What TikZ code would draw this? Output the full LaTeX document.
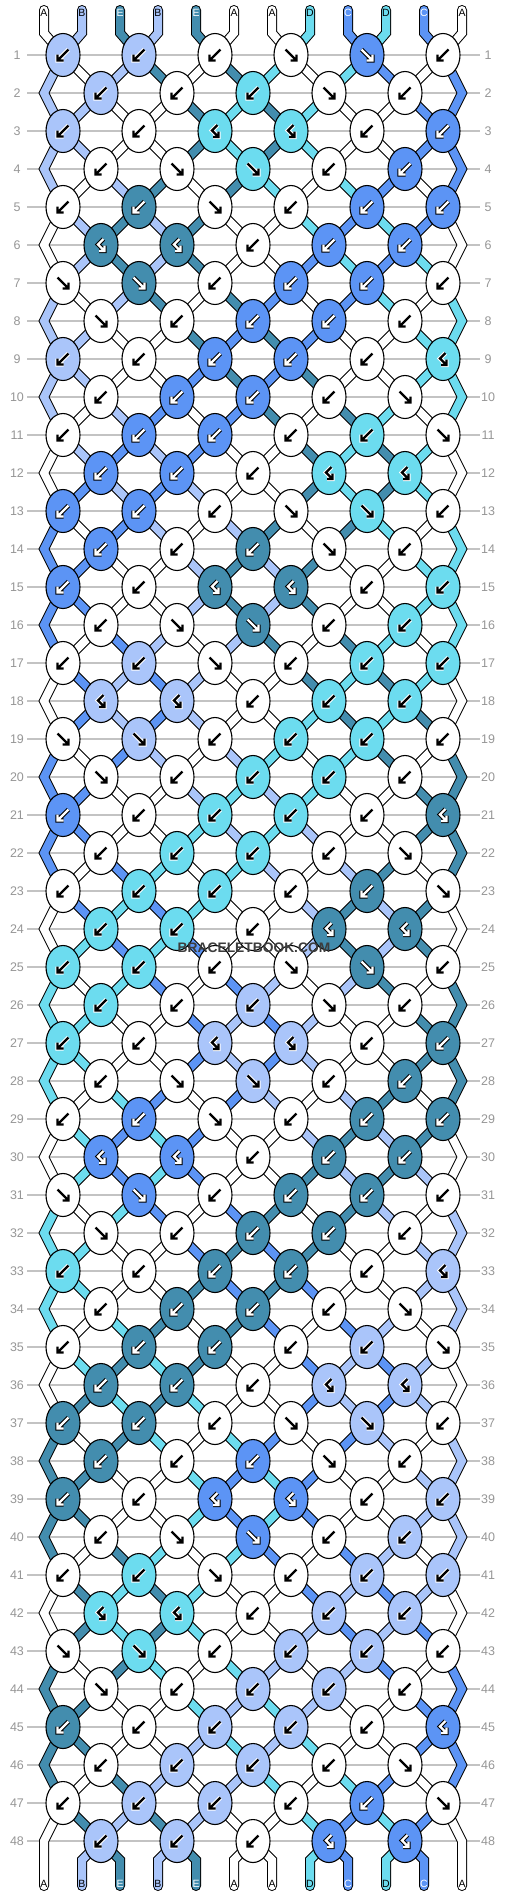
\documentclass[tikz,border=0pt]{standalone}
\usepackage{fontspec}
\setmainfont{Liberation Sans}
\definecolor{colA}{RGB}{255,255,255}
\definecolor{colB}{RGB}{170,197,250}
\definecolor{colC}{RGB}{92,148,245}
\definecolor{colD}{RGB}{108,220,239}
\definecolor{colE}{RGB}{67,141,174}
\definecolor{numgray}{RGB}{150,150,150}
\definecolor{linegray}{RGB}{195,195,195}
\definecolor{wmgray}{RGB}{60,60,60}
\def\fgA{black}\def\fgB{black}\def\fgC{white}\def\fgD{black}\def\fgE{white}
\def\hlA{white}\def\hlB{white}\def\hlC{black}\def\hlD{white}\def\hlE{black}
\expandafter\def\csname kt1\endcsname{b,b,b,f,f,b}
\expandafter\def\csname kt2\endcsname{b,b,b,f,b}
\expandafter\def\csname kt3\endcsname{b,b,h,h,b,b}
\expandafter\def\csname kt4\endcsname{b,f,f,b,b}
\expandafter\def\csname kt5\endcsname{b,b,f,b,b,b}
\expandafter\def\csname kt6\endcsname{h,h,b,b,b}
\expandafter\def\csname kt7\endcsname{f,f,b,b,b,b}
\expandafter\def\csname kt8\endcsname{f,b,b,b,b}
\expandafter\def\csname kt9\endcsname{b,b,b,b,b,h}
\expandafter\def\csname kt10\endcsname{b,b,b,b,f}
\expandafter\def\csname kt11\endcsname{b,b,b,b,b,f}
\expandafter\def\csname kt12\endcsname{b,b,b,h,h}
\def\initstate{A,B,E,B,E,A,A,D,C,D,C,A}
\newcommand\getP[2]{%
  \pgfmathsetmacro\py{55+38*(#2-1)}%
  \ifodd#2\relax
    \pgfmathsetmacro\px{63+76*(floor((#1+1)/2)-1)}%
  \else
    \ifnum#1=1\relax\def\px{44}%
    \else\ifnum#1=12\relax\def\px{462}%
    \else\pgfmathsetmacro\px{101+76*(floor(#1/2)-1)}%
    \fi\fi
  \fi}
\newcommand\gB[1]{\draw[line cap=butt,line join=miter,#1] (5.5,-5.5)--(-5.5,5.5) (-5.5,-0.5)--(-5.5,5.5)--(0.5,5.5);}
\newcommand\gF[1]{\draw[line cap=butt,line join=miter,#1] (-5.5,-5.5)--(5.5,5.5) (5.5,-0.5)--(5.5,5.5)--(-0.5,5.5);}
\newcommand\gH[1]{\draw[line cap=butt,line join=miter,#1] (2.5,-6)--(-3,-0.5)--(3.5,6) (3.5,0.5)--(3.5,6)--(-2,6);}
\begin{document}
\begin{tikzpicture}[x=1pt,y=-1pt,
  outl/.style={line width=10pt, draw=black, line cap=round, line join=miter},
  band/.style={line width=8pt, line cap=round, line join=miter},
  knot/.style={draw=black, line width=1.1pt},
  numlab/.style={text=numgray, font=\fontsize{12.5}{14}\selectfont, inner sep=0pt},
  strlab/.style={font=\fontsize{10.5}{12}\selectfont, inner sep=0pt}]
\fill[white] (0,0) rectangle (506,1896);
\useasboundingbox (0,0) rectangle (506,1896);
% grid lines and row numbers
\foreach \rw in {1,...,48}{
  \pgfmathsetmacro\yy{55+38*(\rw-1)}
  \draw[linegray, line width=1.2pt] (27,\yy) -- (480,\yy);
  \node[numlab] (nl\rw) at (17,\yy) {\rw};
  \node[numlab] (nr\rw) at (488,\yy) {\rw};
}
% ---------- pass 1: black outlines of all strands
\foreach \ps in {1,...,12}{
  \pgfmathsetmacro\xs{44+38*(\ps-1)}
  \getP{\ps}{1}
  \draw[outl] (\xs,10) -- (\xs,33) -- (\px,\py);
}
\foreach \rw in {2,...,48}{
  \pgfmathtruncatemacro\km{\rw-1}
  \foreach \ps in {2,...,11}{
    \getP{\ps}{\km}\let\ax\px\let\ay\py
    \getP{\ps}{\rw}
    \draw[outl] (\ax,\ay) -- (\px,\py);
  }
  \ifodd\rw\relax\else
    \pgfmathsetmacro\ya{55+38*(\rw-2)}
    \pgfmathsetmacro\yb{55+38*(\rw-1)}
    \ifnum\rw<48\relax\pgfmathsetmacro\yc{55+38*\rw}\def\xl{63}\def\xr{443}\else\def\yc{1886}\def\xl{44}\def\xr{462}\fi
    \draw[outl] (63,\ya) -- (44,\yb) -- (\xl,\yc);
    \draw[outl] (443,\ya) -- (462,\yb) -- (\xr,\yc);
  \fi
}
\foreach \ps in {2,...,11}{
  \pgfmathsetmacro\xs{44+38*(\ps-1)}
  \getP{\ps}{48}
  \draw[outl] (\px,\py) -- (\xs,1860) -- (\xs,1886);
}
% ---------- pass 2: coloured strands + simulation
\foreach \lt [count=\ps] in \initstate {\expandafter\xdef\csname st\ps\endcsname{\lt}}
\foreach \ps in {1,...,12}{
  \pgfmathsetmacro\xs{44+38*(\ps-1)}
  \getP{\ps}{1}
  \edef\bc{col\csname st\ps\endcsname}
  \draw[band, draw=\bc] (\xs,10) -- (\xs,33) -- (\px,\py);
  \edef\tc{\csname fg\csname st\ps\endcsname\endcsname}
  \node[strlab, text=\tc] (top\ps) at (\xs,13) {\csname st\ps\endcsname};
}
\foreach \rw in {1,...,48}{
  \ifnum\rw>1\relax
    \pgfmathtruncatemacro\km{\rw-1}
    \foreach \ps in {2,...,11}{
      \getP{\ps}{\km}\let\ax\px\let\ay\py
      \getP{\ps}{\rw}
      \edef\bc{col\csname st\ps\endcsname}
      \draw[band, draw=\bc] (\ax,\ay) -- (\px,\py);
    }
    \ifodd\rw\relax\else
      \pgfmathsetmacro\ya{55+38*(\rw-2)}
      \pgfmathsetmacro\yb{55+38*(\rw-1)}
      \ifnum\rw<48\relax\pgfmathsetmacro\yc{55+38*\rw}\def\xl{63}\def\xr{443}\else\def\yc{1886}\def\xl{44}\def\xr{462}\fi
      \edef\bc{col\csname st1\endcsname}
      \draw[band, draw=\bc] (63,\ya) -- (44,\yb) -- (\xl,\yc);
      \edef\bc{col\csname st12\endcsname}
      \draw[band, draw=\bc] (443,\ya) -- (462,\yb) -- (\xr,\yc);
    \fi
  \fi
  \pgfmathtruncatemacro\pr{mod(\rw-1,12)+1}
  \edef\tlist{\csname kt\pr\endcsname}
  \foreach \ty [count=\kn] in \tlist {%
    \ifodd\rw\relax\pgfmathtruncatemacro\pa{2*\kn-1}\else\pgfmathtruncatemacro\pa{2*\kn}\fi
    \pgfmathtruncatemacro\pb{\pa+1}%
    \edef\lc{\csname st\pa\endcsname}%
    \edef\rc{\csname st\pb\endcsname}%
    \if\ty f\expandafter\xdef\csname kc\rw-\kn\endcsname{\lc}%
    \else\expandafter\xdef\csname kc\rw-\kn\endcsname{\rc}\fi
    \if\ty h\else
      \expandafter\xdef\csname st\pa\endcsname{\rc}%
      \expandafter\xdef\csname st\pb\endcsname{\lc}%
    \fi
  }
}
\foreach \ps in {2,...,11}{
  \pgfmathsetmacro\xs{44+38*(\ps-1)}
  \getP{\ps}{48}
  \edef\bc{col\csname st\ps\endcsname}
  \draw[band, draw=\bc] (\px,\py) -- (\xs,1860) -- (\xs,1886);
}
\foreach \ps in {1,...,12}{
  \pgfmathsetmacro\xs{44+38*(\ps-1)}
  \edef\tc{\csname fg\csname st\ps\endcsname\endcsname}
  \node[strlab, text=\tc] (bot\ps) at (\xs,1884) {\csname st\ps\endcsname};
}
% ---------- pass 3: knots
\foreach \rw in {1,...,48}{
  \pgfmathtruncatemacro\pr{mod(\rw-1,12)+1}
  \pgfmathsetmacro\yy{55+38*(\rw-1)}
  \edef\tlist{\csname kt\pr\endcsname}
  \foreach \ty [count=\kn] in \tlist {%
    \ifodd\rw\relax\pgfmathsetmacro\xx{63+76*(\kn-1)}\else\pgfmathsetmacro\xx{101+76*(\kn-1)}\fi
    \edef\cl{\csname kc\rw-\kn\endcsname}%
    \edef\fc{col\cl}%
    \edef\hc{\csname hl\cl\endcsname}%
    \edef\gc{\csname fg\cl\endcsname}%
    \draw[knot, fill=\fc] (\xx,\yy) ellipse [x radius=17, y radius=21.5];
    \begin{scope}[shift={(\xx,\yy)}]
      \if\ty b\gB{line width=4.4pt,draw=\hc}\gB{line width=2.4pt,draw=\gc}\fi
      \if\ty f\gF{line width=4.4pt,draw=\hc}\gF{line width=2.4pt,draw=\gc}\fi
      \if\ty h\gH{line width=4.4pt,draw=\hc}\gH{line width=2.4pt,draw=\gc}\fi
    \end{scope}
  }
}
\node[font=\bfseries\fontsize{13.8}{15}\selectfont, text=wmgray] (wm) at (254,948) {BRACELETBOOK.COM};
\end{tikzpicture}
\end{document}
